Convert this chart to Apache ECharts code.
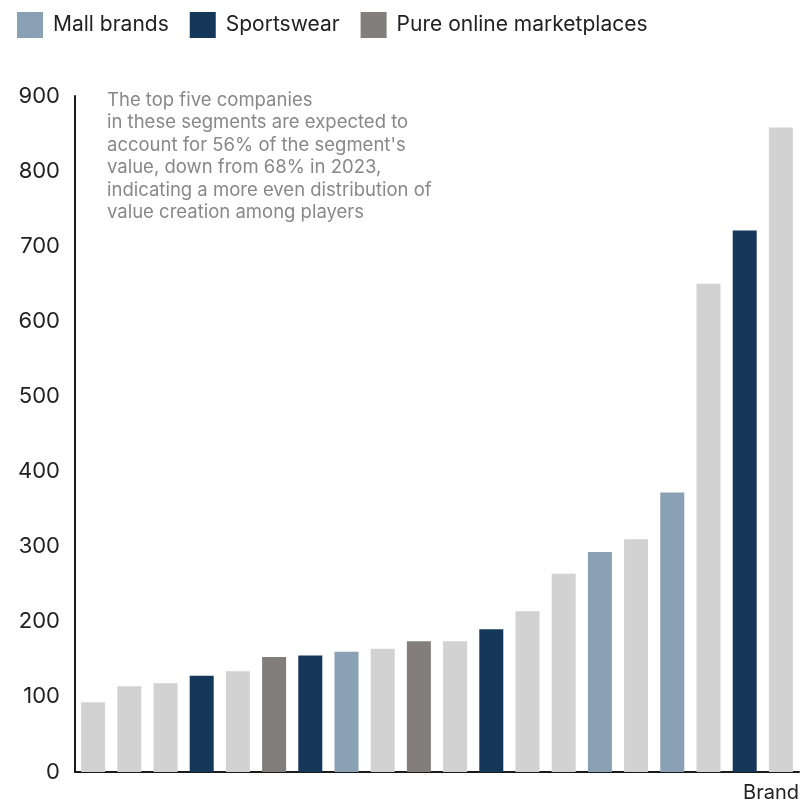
<!DOCTYPE html>
<html>
<head>
<meta charset="utf-8">
<script src="https://cdn.jsdelivr.net/npm/echarts@6/dist/echarts.min.js"></script>
<style>
  html, body { margin: 0; padding: 0; background: #fff; }
  #chart { width: 802px; height: 803px; }
</style>
</head>
<body>
<div id="chart"></div>
<script>
// Brand value by company, sorted ascending; segment decides bar colour
const brands = ['B1','B2','B3','B4','B5','B6','B7','B8','B9','B10','B11','B12','B13','B14','B15','B16','B17','B18','B19','B20'];
const values = [93, 114, 118, 128, 134, 153, 155, 160, 164, 174, 174, 190, 214, 264, 293, 310, 372, 650, 721, 858];
const segments = ['Other','Other','Other','Sportswear','Other','Pure online marketplaces','Sportswear','Mall brands','Other','Pure online marketplaces','Other','Sportswear','Other','Other','Mall brands','Other','Mall brands','Other','Sportswear','Other'];
const segmentNames = ['Mall brands', 'Sportswear', 'Pure online marketplaces', 'Other'];
const segmentColors = { 'Mall brands': '#8aa0b4', 'Sportswear': '#15375a', 'Pure online marketplaces': '#827e7b', 'Other': '#d3d2d3' };
const yTicks = [0, 100, 200, 300, 400, 500, 600, 700, 800, 900];
const note = "The top five companies\nin these segments are expected to\naccount for 56% of the segment's\nvalue, down from 68% in 2023,\nindicating a more even distribution of\nvalue creation among players";

const FONT = 'Inter, "Noto Sans", sans-serif';

const series = segmentNames.map(name => ({
  name: name,
  type: 'bar',
  stack: 'all',
  barWidth: 24,
  itemStyle: { color: segmentColors[name] },
  data: values.map((v, i) => segments[i] === name ? v : null),
  silent: true
}));

const chart = echarts.init(document.getElementById('chart'), null, { renderer: 'canvas' });
chart.setOption({
  animation: false,
  textStyle: { fontFamily: FONT },
  legend: {
    data: segmentNames.slice(0, 3),
    left: 17,
    top: 12,
    itemWidth: 26,
    itemHeight: 26,
    itemGap: 21,
    padding: 0,
    icon: 'rect',
    textStyle: { fontSize: 21, color: '#222', fontFamily: FONT, padding: [2, 0, 0, 5] },
    selectedMode: false
  },
  grid: { left: 75, right: 3, top: 96, bottom: 29.5, containLabel: false },
  xAxis: {
    type: 'category',
    data: brands,
    name: 'Brand',
    nameLocation: 'end',
    nameGap: 0,
    nameTextStyle: { fontSize: 20, color: '#222', fontFamily: FONT, align: 'right', verticalAlign: 'top', padding: [11, 0, 0, 0] },
    axisLine: { lineStyle: { color: '#1a1a1a', width: 2 } },
    axisTick: { show: false },
    axisLabel: { show: false }
  },
  yAxis: {
    type: 'value',
    min: yTicks[0],
    max: yTicks[yTicks.length - 1],
    interval: 100,
    axisLine: { show: true, lineStyle: { color: '#1a1a1a', width: 2 } },
    axisTick: { show: false },
    splitLine: { show: false },
    axisLabel: { fontSize: 22, color: '#222', fontFamily: FONT, margin: 15 }
  },
  graphic: [{
    type: 'text',
    left: 107,
    top: 89,
    style: {
      text: note,
      fill: '#888888',
      font: '18.5px ' + FONT,
      lineHeight: 22.5
    }
  }],
  series: series
});
</script>
</body>
</html>
